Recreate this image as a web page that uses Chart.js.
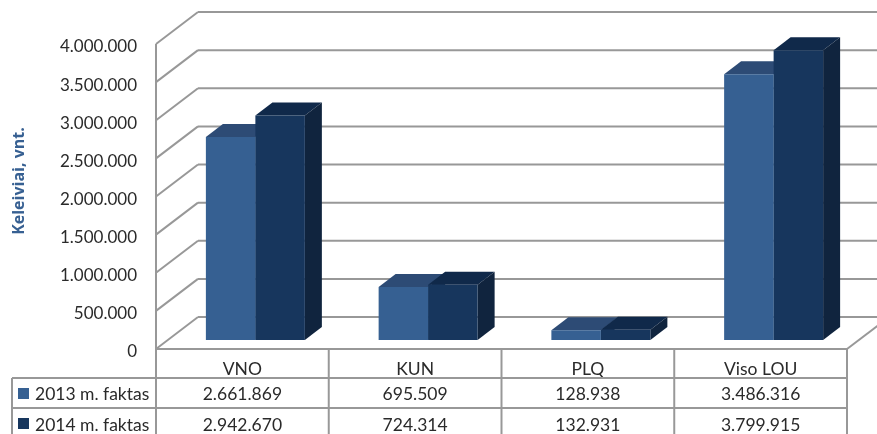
<!DOCTYPE html>
<html>
<head>
<meta charset="utf-8">
<style>
	html, body { margin: 0; padding: 0; background: #fff; overflow: hidden; }
	canvas { display: block; }
</style>
<script src="https://cdn.jsdelivr.net/npm/chart.js@4"></script>
</head>
<body>
<canvas id="chart" width="877" height="434"></canvas>
<script>
const categories = ["VNO", "KUN", "PLQ", "Viso LOU"];
const seriesNames = ["2013 m. faktas", "2014 m. faktas"];
const values2013 = [2661869, 695509, 128938, 3486316];
const values2014 = [2942670, 724314, 132931, 3799915];
const axisTitle = "Keleiviai, vnt.";

const frontColors = ["#366092", "#17365d"];
const topColors = ["#2d4b75", "#10294a"];
const sideColors = ["#254066", "#10243e"];
const lineColor = "#989898";
const textColor = "#2a2a2a";
const font = "17.5px Lato";

// wall depth and bar depth, in pixels
const wall = { dx: 42, dy: -32 };
const barOffset = { dx: 13, dy: -9 };
const barDepth = { dx: 17, dy: -13 };

function fmt(v) {
	return String(v).replace(/\B(?=(\d{3})+$)/g, ".");
}

function line(ctx, x1, y1, x2, y2) {
	ctx.beginPath();
	ctx.moveTo(x1, y1);
	ctx.lineTo(x2, y2);
	ctx.stroke();
}

function poly(ctx, pts, color) {
	ctx.fillStyle = color;
	ctx.beginPath();
	pts.forEach(function (p, i) {
		if (i == 0) ctx.moveTo(p[0], p[1]);
		else ctx.lineTo(p[0], p[1]);
	});
	ctx.closePath();
	ctx.fill();
}

const walls3d = {
	id: "walls3d",
	beforeDatasetsDraw: function (chart) {
		const ctx = chart.ctx;
		const area = chart.chartArea;
		const yScale = chart.scales.y;

		ctx.save();
		ctx.strokeStyle = lineColor;
		ctx.lineWidth = 2;
		yScale.ticks.forEach(function (t) {
			const y = yScale.getPixelForValue(t.value);
			line(ctx, area.left, y, area.left + wall.dx, y + wall.dy);
			line(ctx, area.left + wall.dx, y + wall.dy, chart.width, y + wall.dy);
		});
		line(ctx, area.left, area.top, area.left, area.bottom);
		line(ctx, area.right, area.bottom, area.right + wall.dx, area.bottom + wall.dy);
		ctx.restore();

		// top and side faces of the bars, the fronts come from the library
		chart.data.datasets.forEach(function (ds, i) {
			chart.getDatasetMeta(i).data.forEach(function (bar) {
				const l = bar.x - bar.width / 2 + barOffset.dx;
				const r = bar.x + bar.width / 2 + barOffset.dx;
				const t = bar.y + barOffset.dy;
				const b = bar.base + barOffset.dy;
				poly(ctx, [[l, t], [r, t], [r + barDepth.dx, t + barDepth.dy], [l + barDepth.dx, t + barDepth.dy]], topColors[i]);
				poly(ctx, [[r, t], [r + barDepth.dx, t + barDepth.dy], [r + barDepth.dx, b + barDepth.dy], [r, b]], sideColors[i]);
			});
		});

		ctx.save();
		ctx.translate(barOffset.dx, barOffset.dy);
	},
	afterDatasetsDraw: function (chart) {
		chart.ctx.restore();
	},
	afterDraw: function (chart) {
		const ctx = chart.ctx;
		const area = chart.chartArea;
		const xScale = chart.scales.x;
		const rows = [values2013, values2014];
		const rowY = [378, 408, 438];
		const tableLeft = 12;
		const step = (area.right - area.left) / categories.length;

		ctx.save();
		ctx.strokeStyle = lineColor;
		ctx.lineWidth = 2;
		line(ctx, area.left, area.bottom, area.right, area.bottom);
		for (let i = 0; i <= categories.length; i++) {
			const x = area.left + step * i;
			line(ctx, x, area.bottom, x, chart.height);
		}
		line(ctx, tableLeft, rowY[0], tableLeft, chart.height);
		rowY.forEach(function (y) {
			line(ctx, tableLeft, y, area.right, y);
		});

		ctx.font = font;
		ctx.textBaseline = "middle";
		rows.forEach(function (vals, r) {
			const y = rowY[r] + 16 + r;
			ctx.fillStyle = frontColors[r];
			ctx.fillRect(18, rowY[r] + 10, 11, 11);
			ctx.fillStyle = textColor;
			ctx.textAlign = "left";
			ctx.fillText(seriesNames[r], 35, y);
			ctx.textAlign = "center";
			vals.forEach(function (v, c) {
				ctx.fillText(fmt(v), xScale.getPixelForValue(c), y);
			});
		});

		ctx.translate(19, 181);
		ctx.rotate(-Math.PI / 2);
		ctx.font = "bold 16px 'Open Sans'";
		ctx.fillStyle = "#376092";
		ctx.textAlign = "center";
		ctx.fillText(axisTitle, 0, 0);
		ctx.restore();
	},
};

new Chart(document.getElementById("chart").getContext("2d"), {
	type: "bar",
	data: {
		labels: categories,
		datasets: [
			{ label: seriesNames[0], data: values2013, backgroundColor: frontColors[0], clip: false },
			{ label: seriesNames[1], data: values2014, backgroundColor: frontColors[1], clip: false },
		],
	},
	options: {
		responsive: false,
		animation: false,
		devicePixelRatio: 1,
		layout: { padding: { top: 44, right: 30, left: 0, bottom: 0 } },
		datasets: { bar: { barPercentage: 1, categoryPercentage: 0.573 } },
		plugins: { legend: { display: false }, tooltip: { enabled: false } },
		scales: {
			x: {
				grid: { display: false, drawTicks: false },
				border: { display: false },
				ticks: { color: textColor, font: { family: "Lato", size: 17.5 }, padding: 10, maxRotation: 0 },
				afterFit: function (scale) { scale.height = 85; },
			},
			y: {
				min: 0,
				max: 4000000,
				grid: { display: false, drawTicks: false },
				border: { display: false },
				ticks: {
					stepSize: 500000,
					color: textColor,
					font: { family: "Lato", size: 17 },
					padding: 19,
					labelOffset: 3,
					callback: function (v) { return fmt(v); },
				},
				afterFit: function (scale) { scale.width = 156; },
			},
		},
	},
	plugins: [walls3d],
});
</script>
</body>
</html>
